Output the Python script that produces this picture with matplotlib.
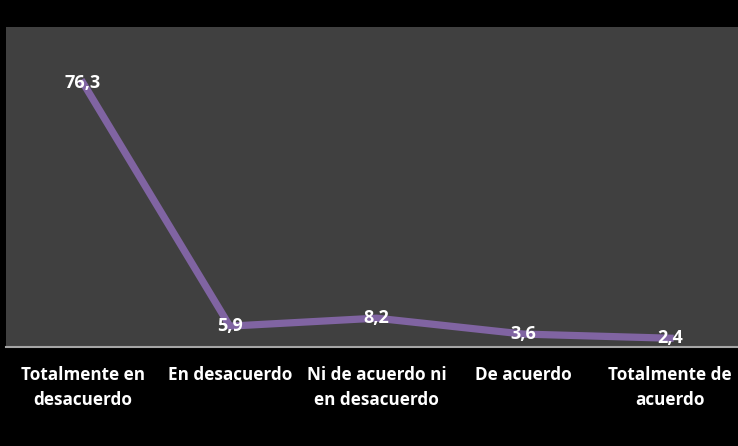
import matplotlib.pyplot as plt

# Data
categories = ['Totalmente en\ndesacuerdo', 'En desacuerdo', 'Ni de acuerdo ni\nen desacuerdo',
              'De acuerdo', 'Totalmente de\nacuerdo']
values = [76.3, 5.9, 8.2, 3.6, 2.4]
value_labels = ['76,3', '5,9', '8,2', '3,6', '2,4']

plt.rcParams['font.family'] = ['Open Sans', 'DejaVu Sans']

fig = plt.figure(figsize=(7.38, 4.46), dpi=100, facecolor='black')
W, H = 738, 446
ax = fig.add_axes([6 / W, 1 - 346.5 / H, 732 / W, 319.5 / H])
ax.set_facecolor('#404040')

x = list(range(len(values)))
ax.plot(x, values, color='#8064A2', linewidth=5.2, solid_joinstyle='round', zorder=2)

# Data labels, centred on the points like the original
for xi, v, lab in zip(x, values, value_labels):
    ax.text(xi, v, lab, color='white', fontsize=13, fontweight='bold',
            ha='center', va='center', zorder=3)

ax.set_xlim(-0.525, 4.463)
ax.set_ylim(0, 92.5)
ax.set_yticks([])
ax.set_xticks(x)
ax.set_xticklabels(categories, color='white', fontsize=12.3, fontweight='bold',
                   linespacing=1.5)
ax.tick_params(axis='x', length=0, pad=14)

for side in ['top', 'left', 'right']:
    ax.spines[side].set_visible(False)
ax.spines['bottom'].set_color('#a6a6a6')
ax.spines['bottom'].set_linewidth(1.5)

plt.savefig('out.png', dpi=100, facecolor='black')
